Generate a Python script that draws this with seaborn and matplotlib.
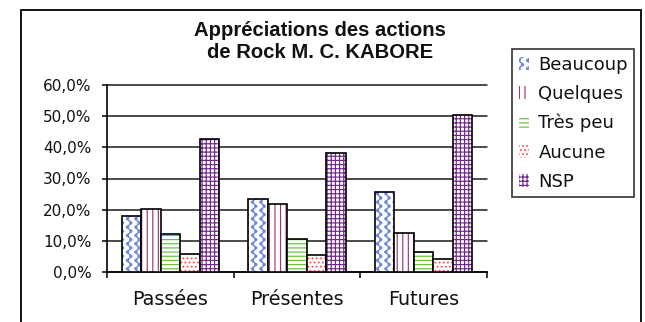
import numpy as np
import pandas as pd
import matplotlib
matplotlib.use("Agg")
import matplotlib.pyplot as plt
import matplotlib.patches as mpatches
from matplotlib import hatch as mhatch
from matplotlib.path import Path
from matplotlib.ticker import FixedLocator, FuncFormatter
import seaborn as sns

# ---- data -------------------------------------------------------------
periodes = ["Passées", "Présentes", "Futures"]
reponses = ["Beaucoup", "Quelques", "Très peu", "Aucune", "NSP"]
beaucoup = [18.1, 23.5, 25.8]
quelques = [20.3, 21.8, 12.6]
tres_peu = [12.2, 10.7, 6.3]
aucune = [5.9, 5.3, 4.3]
nsp = [42.7, 38.1, 50.4]
y_ticks = [0, 10, 20, 30, 40, 50, 60]

titre = "Appréciations des actions\nde Rock M. C. KABORE"

# ---- styles -------------------------------------------------------------
couleurs_motif = ["#6f88da", "#9c3a78", "#66c23c", "#ff5050", "#70288a"]
motifs = ["**", "|||", "----", "....", "++++"]


class WaveHatch(mhatch.HatchPatternBase):
    """Vertical wavy lines, used in place of the star hatch ('*')."""

    steps = 12

    def __init__(self, hatch, density):
        self.num_lines = int(hatch.count("*") * density)
        self.per_line = self.num_lines * self.steps + 1
        self.num_vertices = self.num_lines * self.per_line

    def set_vertices_and_codes(self, vertices, codes):
        n = self.num_lines
        ys = np.linspace(0.0, 1.0, self.per_line)
        for i in range(n):
            x0 = (i + 0.5) / n
            xs = x0 + (0.34 / n) * np.sin(2 * np.pi * n * ys)
            s = slice(i * self.per_line, (i + 1) * self.per_line)
            vertices[s, 0] = xs
            vertices[s, 1] = ys
            codes[s] = Path.LINETO
            codes[s.start] = Path.MOVETO


mhatch._hatch_types = [h for h in mhatch._hatch_types if h is not mhatch.Stars] + [WaveHatch]

sns.set_style("white")
plt.rcParams["font.family"] = ["DejaVu Sans"]
plt.rcParams["hatch.linewidth"] = 0.85

df = pd.DataFrame({
    "periode": periodes * len(reponses),
    "reponse": np.repeat(reponses, len(periodes)),
    "valeur": beaucoup + quelques + tres_peu + aucune + nsp,
})

fig = plt.figure(figsize=(6.45, 3.22), dpi=100)
W, H = 645, 322
ax = fig.add_axes([107 / W, 1 - 272 / H, (487 - 107) / W, (272 - 85) / H])

sns.barplot(data=df, x="periode", y="valeur", hue="reponse", order=periodes,
            hue_order=reponses, palette=["white"] * 5, saturation=1,
            width=0.77, gap=0, errorbar=None, legend=False,
            edgecolor="black", linewidth=1.2, ax=ax, zorder=3)

for cont, motif, coul in zip(ax.containers, motifs, couleurs_motif):
    for bar in cont:
        bar.set_hatch(motif)
        bar.set_edgecolor("black")
        bar._hatch_color = matplotlib.colors.to_rgba(coul)

# ---- axes -----------------------------------------------------------------
ax.set_ylim(0, 60)
ax.set_xlim(-0.5, 2.5)
ax.yaxis.set_major_locator(FixedLocator(y_ticks))
ax.yaxis.set_major_formatter(FuncFormatter(lambda v, p: f"{v:.1f}%".replace(".", ",")))
ax.grid(axis="y", color="#1a1a1a", linewidth=1.1, zorder=0)
for gl in ax.get_ygridlines():
    gl.set_clip_on(False)
ax.set_axisbelow(True)
ax.set_xlabel("")
ax.set_ylabel("")
for side in ("top", "right"):
    ax.spines[side].set_visible(False)
for side in ("left", "bottom"):
    ax.spines[side].set_color("black")
    ax.spines[side].set_linewidth(1.2)

ax.tick_params(axis="y", which="major", left=True, length=3.8, width=1.1,
               color="black", pad=7.5, labelsize=11, labelcolor="#111111")
ax.xaxis.set_minor_locator(FixedLocator([-0.5, 0.5, 1.5, 2.5]))
ax.tick_params(axis="x", which="minor", bottom=True, length=4.5, width=1.1, color="black")
ax.tick_params(axis="x", which="major", bottom=True, length=0, pad=13,
               labelsize=13.8, labelcolor="#111111")

# ---- title ---------------------------------------------------------------
fig.text(320 / W, 1 - 41.5 / H, titre, ha="center", va="center",
         family=["Liberation Sans", "DejaVu Sans"], fontweight="bold",
         fontsize=14.6, linespacing=1.2, color="#111111")

# ---- legend --------------------------------------------------------------
poignees = []
for motif, coul in zip(motifs, couleurs_motif):
    p = mpatches.Patch(facecolor="white", edgecolor=coul, linewidth=0, hatch=motif)
    poignees.append(p)
leg = fig.legend(poignees, reponses, loc="upper left",
                 bbox_to_anchor=(512 / W, 1 - 49 / H), bbox_transform=fig.transFigure,
                 borderaxespad=0, frameon=True, fancybox=False, shadow=False,
                 edgecolor="black", fontsize=13, handlelength=0.6, handleheight=0.7,
                 handletextpad=0.5, labelspacing=0.62, borderpad=0.36)
leg.get_frame().set_linewidth(1.2)
for t in leg.get_texts():
    t.set_color("#111111")

# ---- outer frame ---------------------------------------------------------
fig.add_artist(mpatches.Rectangle((21 / W, -0.05), (641 - 21) / W, 1 - 9.5 / H + 0.05,
                                  transform=fig.transFigure, fill=False,
                                  edgecolor="black", linewidth=1.3))

fig.savefig("out.png", dpi=100)
